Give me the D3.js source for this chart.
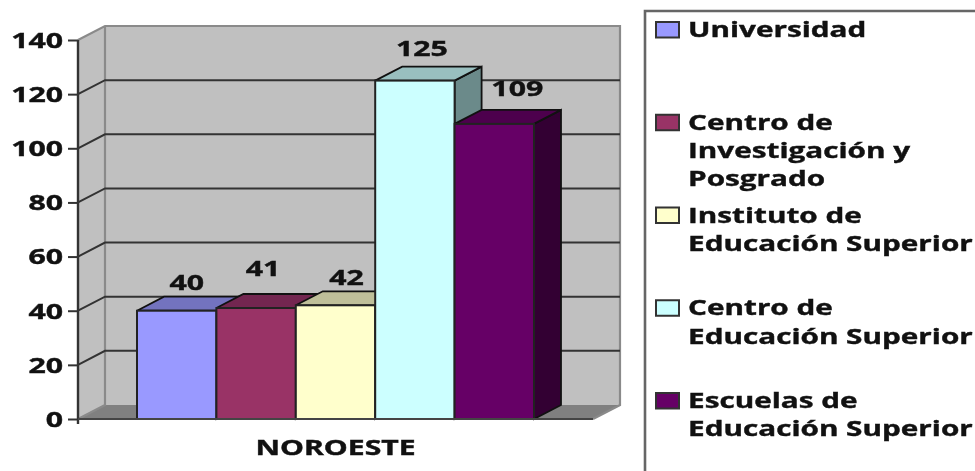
<!DOCTYPE html>
<html><head><meta charset="utf-8">
<script src="https://cdn.jsdelivr.net/npm/d3@7/dist/d3.min.js"></script>
<style>
html,body{margin:0;padding:0;background:#fff;overflow:hidden}
svg{display:block;filter:blur(0.6px)}
text{font-family:"Open Sans",sans-serif;font-weight:700;fill:#111;stroke:#111;stroke-width:0.4px}
</style></head><body><svg id="c" width="975" height="471"></svg>
<script>
const category = ["NOROESTE"];
const legendLines = [["Universidad"],["Centro de","Investigación y","Posgrado"],["Instituto de","Educación Superior"],["Centro de","Educación Superior"],["Escuelas de","Educación Superior"]];
const seriesValues = [40,41,42,125,109];
const yTicks = [0,20,40,60,80,100,120,140];
const frontColors = ["#9999ff","#993366","#ffffcc","#ccffff","#660066"];
const topColors = ["#7373bf","#732650","#bfbf99","#99bfbf","#4d004d"];
const sideColors = ["#5c5c99","#5c1f3d","#99997a","#6b8a8a","#330033"];
const labelNudge = [[10,-21],[7,-32],[11,-20],[7,-25],[23,-28]];

const svg = d3.select("#c");
const dx = 27, dy = 14;
const x0 = 78, x1 = 593, yBase = 419, yTop = 40;
const y = d3.scaleLinear().domain([0,140]).range([yBase,yTop]);
const xCat = d3.scaleBand().domain(category).range([x0,x1]);
const xBar = d3.scaleBand().domain(d3.range(seriesValues.length)).range([137,534]);
const poly = pts => pts.map(p=>p.join(",")).join(" ");
// widen glyphs: the reference text is horizontally stretched
const stretch = (sel,k) => sel.each(function(){
  const len = this.getComputedTextLength();
  d3.select(this).attr("textLength",len*k).attr("lengthAdjust","spacingAndGlyphs");
});

svg.append("polygon").attr("points",poly([[x0,yTop],[x0+dx,yTop-dy],[x0+dx,yBase-dy],[x0,yBase]])).attr("fill","#c0c0c0");
svg.append("polygon").attr("points",poly([[x0+dx,yTop-dy],[x1+dx,yTop-dy],[x1+dx,yBase-dy],[x0+dx,yBase-dy]])).attr("fill","#c0c0c0");
svg.append("polygon").attr("points",poly([[x0,yBase],[x0+dx,yBase-dy],[x1+dx,yBase-dy],[x1,yBase]])).attr("fill","#808080");
svg.append("path").attr("d",`M${x0},${yTop}L${x0+dx},${yTop-dy}L${x1+dx},${yTop-dy}L${x1+dx},${yBase-dy}L${x1},${yBase}M${x0+dx},${yTop-dy}V${yBase-dy}L${x0},${yBase}`)
  .attr("fill","none").attr("stroke","#8a8a8a").attr("stroke-width",2.2);
svg.append("g").selectAll("path").data(yTicks.filter(t=>t>0&&t<140)).join("path")
  .attr("d",t=>`M${x0},${y(t)}L${x0+dx},${y(t)-dy}H${x1+dx}`)
  .attr("fill","none").attr("stroke","#333").attr("stroke-width",2);
const bars = svg.append("g").selectAll("g").data(seriesValues).join("g");
const w = xBar.bandwidth();
bars.append("polygon").attr("points",(d,i)=>{const a=xBar(i)+w;return poly([[a,y(d)],[a+dx,y(d)-dy],[a+dx,yBase-dy],[a,yBase]]);})
  .attr("fill",(d,i)=>sideColors[i]).attr("stroke","#111").attr("stroke-width",1.8);
bars.append("polygon").attr("points",(d,i)=>{const a=xBar(i);return poly([[a,y(d)],[a+dx,y(d)-dy],[a+w+dx,y(d)-dy],[a+w,y(d)]]);})
  .attr("fill",(d,i)=>topColors[i]).attr("stroke","#111").attr("stroke-width",1.8);
bars.append("rect").attr("x",(d,i)=>xBar(i)).attr("y",d=>y(d)).attr("width",w).attr("height",d=>yBase-y(d))
  .attr("fill",(d,i)=>frontColors[i]).attr("stroke","#222").attr("stroke-width",2);
svg.append("g").selectAll("text").data(seriesValues).join("text")
  .attr("x",(d,i)=>xBar(i)+w/2+labelNudge[i][0]).attr("y",(d,i)=>y(d)+labelNudge[i][1])
  .attr("text-anchor","middle").attr("font-size",21).text(d=>d).call(stretch,1.44);
const yAxis = d3.axisLeft(y).tickValues(yTicks).tickSize(10).tickPadding(5);
const gy = svg.append("g").attr("transform",`translate(${x0},0)`).call(yAxis);
gy.select(".domain").attr("stroke","#333").attr("stroke-width",2.4).attr("d",`M0,${yTop}V${yBase+5}`);
gy.selectAll(".tick line").attr("stroke","#333").attr("stroke-width",2);
gy.selectAll("text").attr("font-size",21).attr("font-family",null).attr("dy","0.35em").call(stretch,1.44);
svg.append("line").attr("x1",x0).attr("x2",x1).attr("y1",yBase).attr("y2",yBase).attr("stroke","#444").attr("stroke-width",2);
svg.append("text").attr("x",xCat(category[0])+xCat.bandwidth()/2).attr("y",455)
  .attr("text-anchor","middle").attr("font-size",20.5).text(category[0]).call(stretch,1.47);
svg.append("path").attr("d","M980,11H645V476").attr("fill","none").attr("stroke","#666").attr("stroke-width",2.6);
const yLeg = d3.scaleLinear().domain([0,4]).range([22,393]);
const items = svg.append("g").selectAll("g").data(legendLines).join("g").attr("transform",(d,i)=>`translate(0,${yLeg(i)})`);
items.append("rect").attr("x",656).attr("y",0).attr("width",23).attr("height",15.5)
  .attr("fill",(d,i)=>frontColors[i]).attr("stroke","#333").attr("stroke-width",2);
items.selectAll("text").data(d=>d).join("text").attr("x",688).attr("y",(d,j)=>15+j*28.3)
  .attr("font-size",22).text(d=>d).call(stretch,1.35);
</script></body></html>
